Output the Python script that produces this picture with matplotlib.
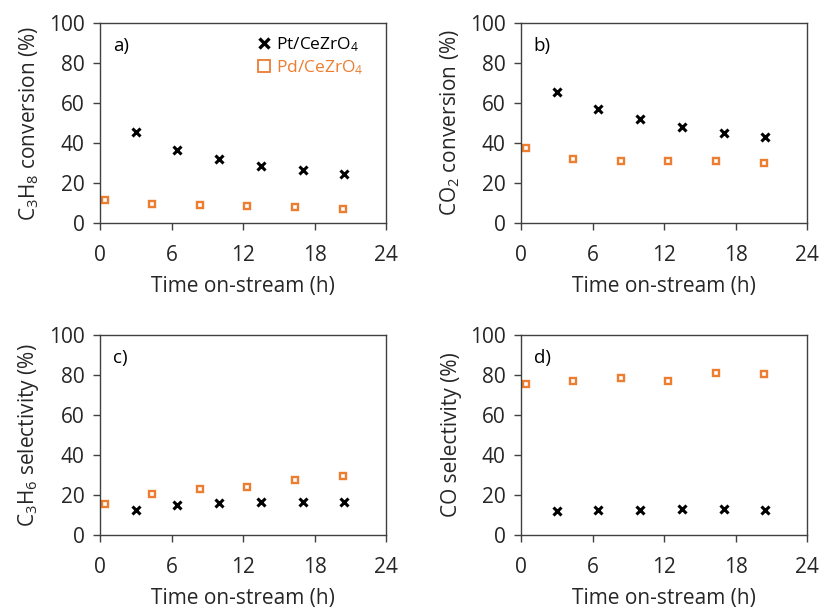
import matplotlib
matplotlib.use("Agg")
import matplotlib.pyplot as plt
from matplotlib.lines import Line2D

plt.rcParams['font.family'] = ['Open Sans', 'DejaVu Sans']
plt.rcParams['mathtext.default'] = 'regular'

# Data
t_pt = [3.0, 6.5, 10.0, 13.5, 17.0, 20.5]
t_pd = [0.4, 4.35, 8.35, 12.35, 16.35, 20.35]

c3h8_conv_pt = [45.3, 36.6, 31.9, 28.6, 26.3, 24.3]
c3h8_conv_pd = [11.5, 9.5, 9.0, 8.7, 7.8, 7.0]

co2_conv_pt = [65.5, 57.2, 51.8, 48.0, 45.2, 42.8]
co2_conv_pd = [37.3, 32.0, 31.2, 31.2, 30.8, 30.0]

c3h6_sel_pt = [12.7, 15.0, 15.8, 16.3, 16.3, 16.3]
c3h6_sel_pd = [15.3, 20.5, 23.0, 24.2, 27.3, 29.3]

co_sel_pt = [11.9, 12.7, 12.7, 13.2, 13.2, 12.7]
co_sel_pd = [75.3, 77.1, 78.3, 77.1, 81.1, 80.3]

xticks = [0, 6, 12, 18, 24]
yticks = [0, 20, 40, 60, 80, 100]

panels = [
    ("a)", "C$_3$H$_8$ conversion (%)", c3h8_conv_pt, c3h8_conv_pd),
    ("b)", "CO$_2$ conversion (%)", co2_conv_pt, co2_conv_pd),
    ("c)", "C$_3$H$_6$ selectivity (%)", c3h6_sel_pt, c3h6_sel_pd),
    ("d)", "CO selectivity (%)", co_sel_pt, co_sel_pd),
]

W, H = 822, 609
fig = plt.figure(figsize=(W / 100, H / 100), dpi=100)
boxes = [(100, 23), (521, 23), (100, 335), (521, 335)]
aw, ah = 286, 200
orange = '#ED7D31'
txt = '#262626'

for (lab, ylab, ypt, ypd), (x0, y0) in zip(panels, boxes):
    ax = fig.add_axes([x0 / W, (H - y0 - ah) / H, aw / W, ah / H])
    ax.plot(t_pt, ypt, ls='none', marker='x', color='black', ms=5.2, mew=2.2)
    ax.plot(t_pd, ypd, ls='none', marker='s', mfc='white', mec=orange,
            ms=3.8, mew=1.7)
    ax.set_xlim(0, 24)
    ax.set_ylim(0, 100)
    ax.set_xticks(xticks)
    ax.set_yticks(yticks)
    ax.tick_params(direction='out', length=5, width=1, labelsize=15,
                   colors='#404040', labelcolor=txt)
    ax.tick_params(axis='x', pad=11)
    ax.tick_params(axis='y', pad=6)
    for s in ax.spines.values():
        s.set_color('#404040')
        s.set_linewidth(1.0)
    ax.set_xlabel('Time on-stream (h)', fontsize=15, color=txt, labelpad=7)
    ax.set_ylabel(ylab, fontsize=15, color=txt, labelpad=6)
    ax.text(0.045, 0.885, lab, transform=ax.transAxes, fontsize=13.5,
            color='black', va='center', ha='left')
    if lab == "a)":
        handles = [
            Line2D([], [], ls='none', marker='x', color='black', ms=7, mew=2.4),
            Line2D([], [], ls='none', marker='s', mfc='none', mec=orange,
                   ms=8, mew=1.3),
        ]
        leg = ax.legend(handles, ['Pt/CeZrO$_4$', 'Pd/CeZrO$_4$'],
                        loc='upper right', frameon=False, fontsize=12.5,
                        handletextpad=0.2, handlelength=1.0,
                        borderaxespad=0.3, labelspacing=0.25,
                        bbox_to_anchor=(0.965, 1.0))
        for t, c in zip(leg.get_texts(), ['black', orange]):
            t.set_color(c)

fig.savefig('out.png', dpi=100)
